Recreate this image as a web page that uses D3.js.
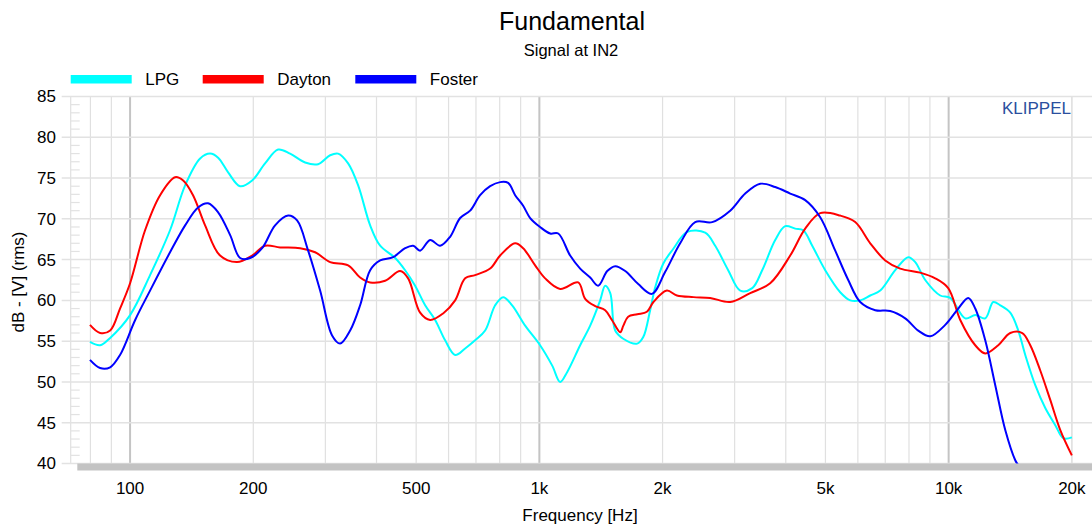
<!DOCTYPE html>
<html>
<head>
<meta charset="utf-8">
<script src="https://cdn.jsdelivr.net/npm/d3@7"></script>
<style>
  html, body { margin: 0; padding: 0; background: #fff; }
  svg { display: block; font-family: "Liberation Sans", Arial, sans-serif; }
</style>
</head>
<body>
<svg id="chart" width="1092" height="525"></svg>
<script>
// Fundamental response, dB re 1 V (rms) versus frequency
const seriesNames = ["LPG", "Dayton", "Foster"];
const seriesColors = ["#00ffff", "#ff0000", "#0000ff"];

const lpgFreq = [79.8, 84.5, 89.4, 100, 111.9, 125.2, 136.3, 148.3, 156.9, 164.1, 173.6, 185.7, 198.7, 213.7, 230.0, 246.0, 267.7, 288.0, 308.2, 322.3, 341.0, 360.8, 386.0, 408.3, 444.3, 469.9, 497.1, 525.9, 556.3, 588.5, 622.6, 658.6, 696.7, 737.1, 779.8, 815.7, 858.0, 923.2, 1004, 1075, 1124, 1169, 1258, 1331, 1408, 1448, 1490, 1532, 1603, 1734, 1794, 1865, 1919, 2007, 2123, 2297, 2542, 2689, 2893, 3096, 3312, 3503, 3769, 3987, 4218, 4412, 4642, 4994, 5433, 5748, 6080, 6433, 6805, 7404, 7966, 8286, 8765, 9537, 10090, 10979, 11614, 12286, 12852, 13369, 14142, 14794, 15389, 16279, 17222, 18219, 19057, 20000];
const lpgDb = [54.9, 54.5, 55.4, 58.2, 63.1, 68.6, 74.1, 77.4, 78.0, 77.5, 75.7, 74.0, 74.7, 76.8, 78.5, 78.0, 76.9, 76.7, 77.8, 78.0, 76.8, 74.1, 69.2, 66.7, 65.2, 63.7, 61.8, 59.4, 57.6, 55.1, 53.3, 54.1, 55.1, 56.3, 59.4, 60.4, 59.4, 56.9, 54.5, 52.0, 50.0, 51.2, 54.5, 56.9, 60.0, 61.8, 60.9, 56.3, 55.3, 54.7, 55.5, 58.8, 61.6, 64.5, 66.3, 68.4, 68.3, 66.7, 63.7, 61.2, 61.5, 63.7, 67.4, 69.1, 68.8, 68.6, 66.7, 63.7, 61.0, 60.0, 60.0, 60.6, 61.2, 63.7, 65.3, 64.7, 62.5, 60.6, 60.3, 57.8, 58.2, 57.8, 59.8, 59.4, 58.5, 56.3, 53.3, 49.6, 46.8, 44.7, 43.1, 43.2];

const daytonFreq = [79.8, 84.5, 89.4, 94.5, 100, 108.8, 118.4, 128.8, 134.8, 142.5, 152.5, 165.9, 182.6, 198.7, 213.7, 232.6, 260.3, 283.2, 308.2, 341.0, 364.8, 386.0, 419.9, 456.9, 478.0, 511.3, 540.9, 581.9, 622.6, 658.6, 696.7, 758.1, 802.0, 872.6, 912.8, 976.5, 1033, 1124, 1244, 1294, 1369, 1448, 1504, 1576, 1604, 1648, 1735, 1831, 1900, 2049, 2168, 2380, 2614, 2926, 3275, 3664, 4101, 4462, 4855, 5433, 5912, 6433, 6999, 7615, 8522, 9272, 9976, 10675, 11614, 12286, 13219, 14142, 15131, 15828, 16744, 17713, 18739, 20000];
const daytonDb = [57.0, 56.0, 56.3, 59.0, 62.1, 68.6, 72.9, 75.1, 74.7, 72.9, 69.2, 65.5, 64.7, 65.5, 66.7, 66.5, 66.4, 65.9, 64.7, 64.3, 62.8, 62.2, 62.4, 63.6, 62.7, 58.5, 57.6, 58.4, 60.0, 62.7, 63.1, 63.9, 65.5, 67.0, 66.4, 64.3, 62.7, 61.4, 62.2, 60.2, 59.3, 58.8, 57.6, 56.1, 56.9, 58.0, 58.3, 58.6, 59.8, 61.2, 60.6, 60.4, 60.3, 59.8, 60.9, 62.1, 65.5, 68.8, 70.7, 70.4, 69.6, 67.0, 64.9, 63.9, 63.4, 62.7, 61.5, 57.6, 54.5, 53.5, 54.5, 56.0, 56.0, 54.5, 51.4, 47.8, 44.1, 41.0];

const fosterFreq = [79.8, 84.5, 89.4, 94.5, 102.9, 111.9, 125.2, 136.3, 146.6, 155.1, 164.1, 175.6, 185.7, 196.5, 210.2, 226.1, 243.3, 255.9, 272.3, 291.3, 311.6, 326.0, 344.9, 364.8, 386.0, 408.3, 439.3, 469.9, 491.6, 511.3, 540.9, 572.2, 605.3, 640.4, 677.4, 716.6, 758.1, 802.0, 838.9, 872.6, 912.8, 949.5, 1004, 1063, 1112, 1189, 1258, 1331, 1392, 1465, 1532, 1621, 1744, 1883, 2030, 2208, 2403, 2644, 2926, 3184, 3464, 3769, 4101, 4462, 4855, 5283, 5684, 6080, 6616, 7198, 7832, 8427, 9015, 9809, 10556, 11166, 11614, 12286, 12998, 13750, 14546, 14794];
const fosterDb = [52.7, 51.7, 51.8, 53.3, 57.6, 61.2, 65.9, 69.2, 71.4, 71.9, 70.8, 68.0, 65.2, 65.2, 66.4, 69.2, 70.4, 69.8, 66.1, 61.2, 55.7, 54.7, 56.3, 59.4, 63.7, 64.9, 65.3, 66.4, 66.7, 66.1, 67.4, 66.7, 67.8, 70.1, 71.0, 72.9, 74.0, 74.5, 74.4, 72.9, 71.6, 70.1, 69.0, 68.2, 68.2, 65.5, 63.9, 62.8, 61.8, 63.6, 64.2, 63.6, 62.0, 60.8, 63.5, 67.0, 69.6, 69.6, 71.0, 73.1, 74.3, 73.9, 73.1, 72.3, 70.2, 66.1, 62.5, 59.8, 58.8, 58.7, 57.8, 56.3, 55.6, 57.0, 59.0, 60.3, 59.0, 55.1, 49.6, 44.1, 40.4, 39.8];

const yTicks = [40, 45, 50, 55, 60, 65, 70, 75, 80, 85];
const xTickValues = [100, 200, 500, 1000, 2000, 5000, 10000, 20000];
const xTickLabels = ["100", "200", "500", "1k", "2k", "5k", "10k", "20k"];

const svg = d3.select("#chart");
const W = 1092;

const x = d3.scaleLog().domain([71.6, 22400]).range([70.7, 1092]);
const y = d3.scaleLinear().domain([40, 85]).range([463.5, 96.5]);
const plotLeft = x.range()[0];
const plotTop = y(85), plotBottom = y(40);

// Grid
const grid = svg.append("g");
const minorX = [];
[10, 100, 1000, 10000].forEach(dec => {
  for (let k = 1; k <= 9; k++) {
    const f = dec * k;
    if (f > 75 && f < 22000) minorX.push(f);
  }
});
minorX.push(20000);
const decades = [100, 1000, 10000];
grid.selectAll("line.vx").data(minorX).enter().append("line")
  .attr("x1", d => x(d)).attr("x2", d => x(d))
  .attr("y1", plotTop).attr("y2", plotBottom)
  .attr("stroke", d => decades.includes(d) ? "#c4c4c4" : "#e0e0e0")
  .attr("stroke-width", d => decades.includes(d) ? 2 : 1.2);

// left frame line
grid.append("line").attr("x1", plotLeft).attr("x2", plotLeft).attr("y1", plotTop).attr("y2", plotBottom)
  .attr("stroke", "#e0e0e0").attr("stroke-width", 1.2);

grid.selectAll("line.hy").data(yTicks).enter().append("line")
  .attr("x1", plotLeft - 9).attr("x2", W)
  .attr("y1", d => y(d)).attr("y2", d => y(d))
  .attr("stroke", "#e2e2e2").attr("stroke-width", 1.5);

// 1 dB minor ticks
const minorY = d3.range(40, 85).filter(v => v % 5 !== 0);
grid.selectAll("line.my").data(minorY).enter().append("line")
  .attr("x1", plotLeft).attr("x2", plotLeft + 9)
  .attr("y1", d => y(d)).attr("y2", d => y(d))
  .attr("stroke", "#e2e2e2").attr("stroke-width", 1.2);

// bottom bar
svg.append("rect").attr("x", 77.3).attr("y", plotBottom).attr("width", W - 77.3).attr("height", 7)
  .attr("fill", "#c3c3c3");

// Y tick labels
svg.append("g").selectAll("text").data(yTicks).enter().append("text")
  .attr("x", 56).attr("y", d => y(d)).attr("dy", "0.35em")
  .attr("text-anchor", "end").attr("font-size", 17).attr("fill", "#000")
  .text(d => d);

// X tick labels
svg.append("g").selectAll("text").data(xTickValues).enter().append("text")
  .attr("x", d => x(d)).attr("y", 494)
  .attr("text-anchor", "middle").attr("font-size", 17).attr("fill", "#000")
  .text((d, i) => xTickLabels[i]);

// Axis titles
svg.append("text").attr("x", 580).attr("y", 521).attr("text-anchor", "middle")
  .attr("font-size", 17).text("Frequency [Hz]");
svg.append("text").attr("transform", "translate(24,282) rotate(-90)")
  .attr("text-anchor", "middle").attr("font-size", 17).text("dB - [V]  (rms)");

// Titles
svg.append("text").attr("x", 572).attr("y", 30).attr("text-anchor", "middle")
  .attr("font-size", 25).text("Fundamental");
svg.append("text").attr("x", 571).attr("y", 56).attr("text-anchor", "middle")
  .attr("font-size", 16.5).text("Signal at IN2");

// Brand mark
svg.append("text").attr("x", 1071).attr("y", 114).attr("text-anchor", "end")
  .attr("font-size", 17).attr("fill", "#2b4f9e").text("KLIPPEL");

// Legend
const legendX = [70.7, 202.7, 355.3];
const lg = svg.append("g");
seriesNames.forEach((name, i) => {
  lg.append("rect").attr("x", legendX[i]).attr("y", 75).attr("width", 61).attr("height", 8.5)
    .attr("fill", seriesColors[i]);
  lg.append("text").attr("x", legendX[i] + 74.5).attr("y", 84.5)
    .attr("font-size", 17).text(name);
});

// Curves
svg.append("clipPath").attr("id", "plotClip").append("rect")
  .attr("x", plotLeft).attr("y", plotTop).attr("width", W - plotLeft).attr("height", plotBottom - plotTop);

const line = d3.line()
  .x(d => x(d[0])).y(d => y(d[1]))
  .curve(d3.curveCatmullRom.alpha(0.5));

const series = [
  d3.zip(lpgFreq, lpgDb),
  d3.zip(daytonFreq, daytonDb),
  d3.zip(fosterFreq, fosterDb)
];
const curves = svg.append("g").attr("clip-path", "url(#plotClip)");
series.forEach((pts, i) => {
  curves.append("path").attr("d", line(pts))
    .attr("fill", "none").attr("stroke", seriesColors[i]).attr("stroke-width", 2);
});
</script>
</body>
</html>
